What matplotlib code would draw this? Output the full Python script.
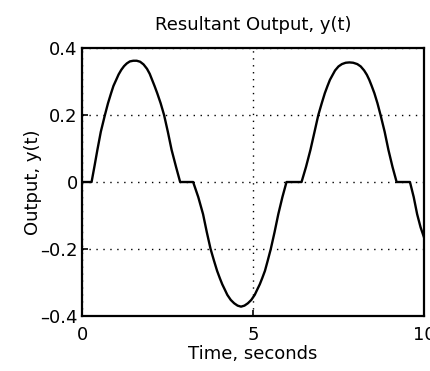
import numpy as np
import matplotlib
matplotlib.use("Agg")
import matplotlib.pyplot as plt

# values (time in s, output)
t_vals = [0.00, 0.28, 0.37, 0.45, 0.55, 0.67, 0.76, 0.85, 0.92, 1.00, 1.07, 1.15, 1.23, 1.31, 1.40, 1.50,
          1.60, 1.70, 1.80, 1.90, 1.98, 2.05, 2.12, 2.20, 2.30, 2.40, 2.51, 2.62, 2.75, 2.87,
          3.25, 3.40, 3.54, 3.65, 3.76, 3.86, 3.95, 4.03, 4.10, 4.18, 4.25, 4.35, 4.45, 4.55, 4.65,
          4.75, 4.85, 4.95, 5.05, 5.12, 5.20, 5.27, 5.35, 5.43, 5.52, 5.63, 5.74, 5.86, 5.98,
          6.42, 6.55, 6.68, 6.80, 6.91, 7.01, 7.10, 7.18, 7.25, 7.33, 7.40, 7.50, 7.60, 7.71, 7.82,
          7.93, 8.05, 8.15, 8.25, 8.33, 8.40, 8.47, 8.55, 8.64, 8.73, 8.85, 8.96, 9.08, 9.20,
          9.59, 9.70, 9.80, 9.90, 10.00]
y_vals = [0.000, 0.000, 0.050, 0.096, 0.150, 0.200, 0.235, 0.265, 0.287, 0.305, 0.321, 0.335, 0.346, 0.354, 0.360, 0.362,
          0.362, 0.359, 0.351, 0.338, 0.323, 0.305, 0.287, 0.265, 0.235, 0.200, 0.150, 0.096, 0.045, 0.000,
          0.000, -0.045, -0.096, -0.150, -0.200, -0.235, -0.265, -0.287, -0.305, -0.322, -0.337, -0.352, -0.362, -0.369, -0.372,
          -0.369, -0.362, -0.352, -0.337, -0.322, -0.305, -0.287, -0.265, -0.235, -0.200, -0.150, -0.096, -0.045, 0.000,
          0.000, 0.045, 0.096, 0.150, 0.200, 0.235, 0.265, 0.287, 0.305, 0.320, 0.333, 0.345, 0.352, 0.356, 0.357,
          0.356, 0.352, 0.345, 0.333, 0.320, 0.305, 0.287, 0.265, 0.235, 0.200, 0.150, 0.096, 0.045, 0.000,
          0.000, -0.045, -0.096, -0.135, -0.165]

x_ticks = [0, 5, 10]
y_ticks = [-0.4, -0.2, 0, 0.2, 0.4]
y_tick_labels = ["\u20130.4", "\u20130.2", "0", "0.2", "0.4"]

plt.rcParams['font.family'] = ['DejaVu Sans']

fig = plt.figure(figsize=(4.3, 3.71), dpi=100)
ax = fig.add_axes([0.1907, 0.1482, 0.7953, 0.7224])

t = np.array(t_vals)
y = np.array(y_vals)
ax.plot(t, y, color="black", linewidth=1.7, solid_joinstyle="round")

ax.set_xlim(0, 10)
ax.set_ylim(-0.4, 0.4)
ax.set_xticks(x_ticks)
ax.set_xticklabels([str(v) for v in x_ticks])
ax.set_yticks(y_ticks)
ax.set_yticklabels(y_tick_labels)
ax.grid(True, color="black", linestyle=(0, (1, 4)), linewidth=1.0)
ax.tick_params(direction="in", length=4, width=1.2, labelsize=13, colors="black")
ax.tick_params(axis="x", pad=7)
ax.tick_params(axis="y", pad=3)
for sp in ax.spines.values():
    sp.set_linewidth(1.6)
    sp.set_color("black")

ax.set_title("Resultant Output, y(t)", fontsize=13, pad=13)
ax.set_xlabel("Time, seconds", fontsize=13, labelpad=1)
ax.set_ylabel("Output, y(t)", fontsize=13, labelpad=-1)

fig.savefig("out.png", dpi=100)
